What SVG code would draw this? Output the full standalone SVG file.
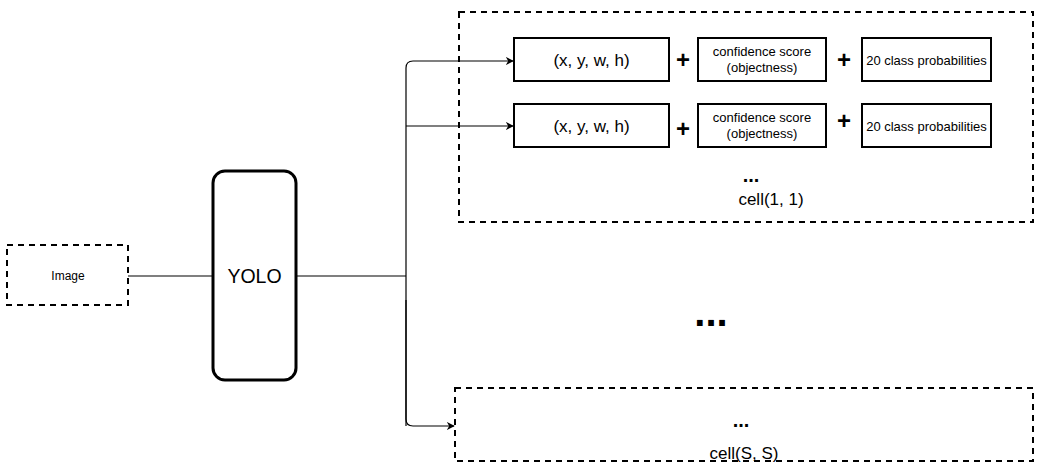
<svg xmlns="http://www.w3.org/2000/svg" width="1047" height="476" viewBox="0 0 1047 476">
<defs>
<style>
text{font-family:"Liberation Sans",Arial,sans-serif;fill:#000;text-anchor:middle}
.dash{fill:none;stroke:#000;stroke-width:2;stroke-dasharray:6 5}
.box{fill:#fff;stroke:#000;stroke-width:2}
.ln{fill:none;stroke:#000;stroke-width:1.2}
.plus{font-size:24px;font-weight:bold}
.s15{font-size:17px}
.s11{font-size:13px}
</style>
<marker id="arr" viewBox="0 0 10 10" refX="9" refY="5" markerWidth="8" markerHeight="8" orient="auto" markerUnits="userSpaceOnUse">
<path d="M0,0 L10,5 L0,10 L3,5 Z" fill="#000"/>
</marker>
</defs>
<g id="image">
<rect class="dash" x="7" y="245" width="121" height="60"/>
<text x="68" y="280" font-size="12">Image</text>
</g>
<g id="yolo">
<rect x="213" y="171" width="83" height="209" rx="12" fill="#fff" stroke="#000" stroke-width="3"/>
<text x="254.5" y="283" font-size="19.5">YOLO</text>
</g>
<g id="cell11">
<rect class="dash" x="459" y="12" width="574" height="210"/>
<text x="751" y="182" font-size="20" font-weight="bold">...</text>
<text class="s15" x="771" y="205">cell(1, 1)</text>
</g>
<g id="row1">
<rect class="box" x="514" y="38" width="155" height="43"/>
<text class="s15" x="591.5" y="66">(x, y, w, h)</text>
<text class="plus" x="683" y="68">+</text>
<rect class="box" x="698" y="38" width="128" height="43"/>
<text class="s11" x="762" y="56">confidence score</text>
<text class="s11" x="762" y="72">(objectness)</text>
<text class="plus" x="844" y="68">+</text>
<rect class="box" x="862" y="38" width="129" height="43"/>
<text class="s11" x="926.5" y="64.5">20 class probabilities</text>
</g>
<g id="row2">
<rect class="box" x="514" y="104" width="155" height="43"/>
<text class="s15" x="591.5" y="132">(x, y, w, h)</text>
<text class="plus" x="683" y="137">+</text>
<rect class="box" x="698" y="104" width="128" height="43"/>
<text class="s11" x="762" y="122">confidence score</text>
<text class="s11" x="762" y="138">(objectness)</text>
<text class="plus" x="844" y="129">+</text>
<rect class="box" x="862" y="104" width="129" height="43"/>
<text class="s11" x="926.5" y="130.5">20 class probabilities</text>
</g>
<g id="more">
<text x="711" y="326" font-size="40" font-weight="bold">...</text>
</g>
<g id="cellSS">
<rect class="dash" x="455" y="388" width="578" height="73"/>
<text x="741" y="427" font-size="20" font-weight="bold">...</text>
<text class="s15" x="744" y="459">cell(S, S)</text>
</g>
<g id="connectors">
<line class="ln" x1="128" y1="276" x2="213" y2="276"/>
<line class="ln" x1="296" y1="276" x2="406" y2="276"/>
<path class="ln" d="M406,426 L406,68 Q406,61 413,61 L513,61" marker-end="url(#arr)"/>
<path class="ln" d="M406,126 L513,126" marker-end="url(#arr)"/>
<path class="ln" d="M406,300 L406,419 Q406,426 413,426 L454,426" marker-end="url(#arr)"/>
</g>
</svg>
